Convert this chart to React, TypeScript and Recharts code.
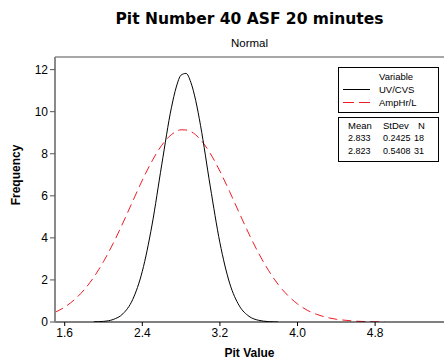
import React from "react";
import { LineChart, Line, XAxis, YAxis, ReferenceLine } from "recharts";

// Pit Value grid
const pitValues = [1.5, 1.6, 1.7, 1.8, 1.9, 2.0, 2.1, 2.2, 2.3, 2.4, 2.5, 2.6, 2.7, 2.75, 2.8, 2.85, 2.9, 2.95, 3.0, 3.1, 3.2, 3.3, 3.4, 3.5, 3.6, 3.7, 3.8, 3.9, 4.0, 4.1, 4.2, 4.3, 4.4, 4.5, 4.6, 4.7, 4.8, 4.9];
// UV/CVS fitted frequency (null = not drawn)
const uvCvs: (number | null)[] = [null, null, null, null, 0.01, 0.03, 0.12, 0.39, 1.06, 2.41, 4.61, 7.47, 10.19, 11.17, 11.74, 11.82, 11.4, 10.54, 9.35, 6.46, 3.77, 1.85, 0.77, 0.27, 0.08, 0.02, 0.0, null, null, null, null, null, null, null, null, null, null, null];
// AmpHr/L fitted frequency
const ampHrL: (number | null)[] = [0.46, 0.71, 1.06, 1.53, 2.13, 2.87, 3.74, 4.71, 5.73, 6.74, 7.65, 8.4, 8.91, 9.06, 9.14, 9.13, 9.06, 8.9, 8.67, 8.02, 7.17, 6.2, 5.18, 4.18, 3.26, 2.46, 1.79, 1.26, 0.86, 0.56, 0.36, 0.22, 0.13, 0.08, 0.04, 0.02, 0.01, 0.0];

const xTicks = [1.6, 2.4, 3.2, 4.0, 4.8];
const yTicks = [0, 2, 4, 6, 8, 10, 12];

const seriesNames = ["UV/CVS", "AmpHr/L"];
const means = ["2.833", "2.823"];
const stDevs = ["0.2425", "0.5408"];
const counts = ["18", "31"];

const data = pitValues.map((x, i) => ({ x, uv: uvCvs[i], amp: ampHrL[i] }));

const FONT = "'Liberation Sans', Arial, sans-serif";
const WIDE = "'DejaVu Sans', Verdana, sans-serif";

export default function App() {
  const txt = (s: React.CSSProperties): React.CSSProperties => ({
    position: "absolute",
    fontFamily: FONT,
    color: "#000",
    whiteSpace: "nowrap",
    lineHeight: 1,
    ...s,
  });
  return (
    <div style={{ position: "absolute", left: 0, top: 0, width: 444, height: 360, background: "#fff", overflow: "hidden" }}>
      <LineChart width={444} height={360} data={data} margin={{ top: 57, right: 0, bottom: 0, left: 15 }}>
        <XAxis
          dataKey="x"
          type="number"
          domain={[1.5, 5.51]}
          ticks={xTicks}
          tickFormatter={(v: number) => v.toFixed(1)}
          allowDataOverflow
          height={38}
          stroke="#000"
          tickSize={4}
          tick={{ fill: "#000", fontSize: 12, fontFamily: FONT }}
        />
        <YAxis
          type="number"
          domain={[0, 12.6]}
          ticks={yTicks}
          allowDataOverflow
          width={40}
          stroke="#8a8a8a"
          strokeWidth={2}
          tickSize={5}
          tickLine={{ stroke: "#555", strokeWidth: 1 }}
          tick={{ fill: "#000", fontSize: 12, fontFamily: FONT }}
        />
        <ReferenceLine y={12.6} stroke="#8a8a8a" strokeWidth={1.5} ifOverflow="visible" />
        <Line dataKey="amp" stroke="#ee1c24" strokeWidth={1} strokeDasharray="9 5" dot={false} type="monotone" isAnimationActive={false} />
        <Line dataKey="uv" stroke="#000" strokeWidth={1} dot={false} type="monotone" isAnimationActive={false} />
      </LineChart>

      <div style={txt({ left: 0, width: 499, top: 12, textAlign: "center", fontSize: 15.5, fontWeight: "bold", fontFamily: WIDE })}>
        Pit Number 40 ASF 20 minutes
      </div>
      <div style={txt({ left: 0, width: 499, top: 38, textAlign: "center", fontSize: 11.5 })}>Normal</div>
      <div style={txt({ left: 0, width: 499, top: 347, textAlign: "center", fontSize: 12, fontWeight: "bold" })}>Pit Value</div>
      <div
        style={txt({
          left: 16,
          top: 175,
          fontSize: 12,
          fontWeight: "bold",
          transform: "translate(-50%, -50%) rotate(-90deg)",
        })}
      >
        Frequency
      </div>

      {/* legend box 1 */}
      <div style={{ position: "absolute", left: 338, top: 67, width: 101, height: 46, border: "1px solid #000", boxSizing: "border-box" }} />
      <div style={txt({ left: 379, top: 72, fontSize: 9.5 })}>Variable</div>
      <div style={{ position: "absolute", left: 343, top: 89, width: 27, height: 0, borderTop: "1px solid #000" }} />
      <div style={txt({ left: 379, top: 84.5, fontSize: 9.5 })}>{seriesNames[0]}</div>
      <div style={{ position: "absolute", left: 343, top: 102, width: 11, height: 0, borderTop: "1px solid #ee1c24" }} />
      <div style={txt({ left: 379, top: 97.5, fontSize: 9.5 })}>{seriesNames[1]}</div>
      <div style={{ position: "absolute", left: 359, top: 102, width: 11, height: 0, borderTop: "1px solid #ee1c24" }} />

      {/* legend box 2 */}
      <div style={{ position: "absolute", left: 338, top: 117, width: 101, height: 45, border: "1px solid #000", boxSizing: "border-box" }} />
      <div style={txt({ left: 348, top: 121, fontSize: 9.5 })}>Mean</div>
      <div style={txt({ left: 383, top: 121, fontSize: 9.5 })}>StDev</div>
      <div style={txt({ left: 418, top: 121, fontSize: 9.5 })}>N</div>
      {[0, 1].map((i) => (
        <React.Fragment key={i}>
          <div style={txt({ left: 348, top: 134 + i * 13, fontSize: 9 })}>{means[i]}</div>
          <div style={txt({ left: 383, top: 134 + i * 13, fontSize: 9 })}>{stDevs[i]}</div>
          <div style={txt({ left: 414, top: 134 + i * 13, fontSize: 9 })}>{counts[i]}</div>
        </React.Fragment>
      ))}
    </div>
  );
}
